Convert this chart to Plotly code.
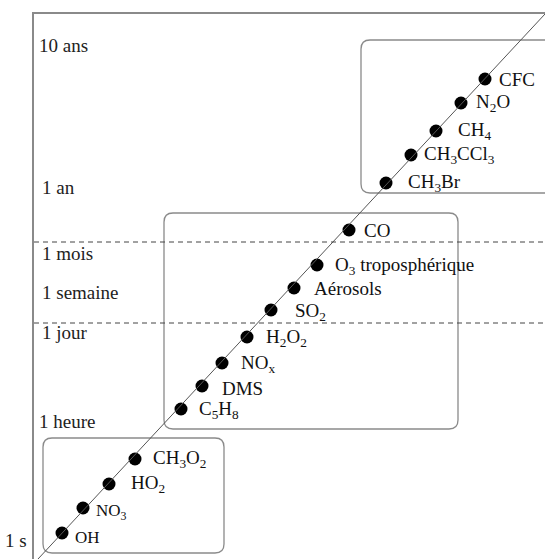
import plotly.graph_objects as go

# schematic lifetime chart: positions are unitless (1 unit ~ 1 px of the original)
species = [
    "OH", "NO<sub>3</sub>", "HO<sub>2</sub>", "CH<sub>3</sub>O<sub>2</sub>",
    "C<sub>5</sub>H<sub>8</sub>", "DMS", "NO<sub>x</sub>", "H<sub>2</sub>O<sub>2</sub>",
    "SO<sub>2</sub>", "Aérosols", "O<sub>3</sub> troposphérique", "CO",
    "CH<sub>3</sub>Br", "CH<sub>3</sub>CCl<sub>3</sub>", "CH<sub>4</sub>", "N<sub>2</sub>O", "CFC",
]
spatial = [28, 49, 75, 101, 147, 168, 188, 213, 237, 260, 283, 315, 352, 377, 402, 427, 451]
lifetime = [26, 51, 75, 100, 150, 173, 196, 222, 249, 271, 294, 329, 376, 404, 428, 456, 480]

tick_labels = ["1 s", "1 heure", "1 jour", "1 semaine", "1 mois", "1 an", "10 ans"]
tick_pos = [19, 138, 227, 267, 306, 372, 514]

# label placement (px offsets from dot centre)
label_dx = [12, 12, 21, 17, 17, 19, 18, 18, 23, 19, 17, 14, 21, 12, 21, 14, 13]
label_dy = [-4, -4, 0, 0, -1, -2, -1, -1, -2, 0, -1, 0, 0, 0, 0, 0, 0]
label_size = [17, 17] + [19] * 15

FONT = "Liberation Serif"
GREY = "#8a8a8a"


def rounded_box(x0, y0, x1, y1, r=9):
    return (
        f"M {x0 + r},{y0} L {x1 - r},{y0} Q {x1},{y0} {x1},{y0 + r} "
        f"L {x1},{y1 - r} Q {x1},{y1} {x1 - r},{y1} "
        f"L {x0 + r},{y1} Q {x0},{y1} {x0},{y1 - r} "
        f"L {x0},{y0 + r} Q {x0},{y0} {x0 + r},{y0} Z"
    )


fig = go.Figure()

fig.add_trace(go.Scatter(
    x=spatial, y=lifetime, mode="markers",
    marker={"size": 13, "color": "black"},
    hoverinfo="skip", showlegend=False,
))

shapes = [
    # diagonal guide
    {"type": "line", "x0": 4, "y0": 0, "x1": 511, "y1": 545,
     "line": {"color": "#555", "width": 1}},
    # month / day boundaries
    {"type": "line", "xref": "paper", "x0": 0, "x1": 1, "y0": 317, "y1": 317,
     "line": {"color": "#444", "width": 1, "dash": "5px,4px"}},
    {"type": "line", "xref": "paper", "x0": 0, "x1": 1, "y0": 236, "y1": 236,
     "line": {"color": "#444", "width": 1, "dash": "5px,4px"}},
]
for box in [(9, 6, 190, 121), (130, 130, 424, 346), (327, 366, 530, 519)]:
    shapes.append({"type": "path", "path": rounded_box(*box),
                   "line": {"color": GREY, "width": 1.3}, "layer": "below"})

annotations = []
for name, x, y, dx, dy, sz in zip(species, spatial, lifetime, label_dx, label_dy, label_size):
    annotations.append({
        "x": x, "y": y, "text": name, "showarrow": False,
        "xanchor": "left", "yanchor": "middle", "xshift": dx - 1, "yshift": dy,
        "font": {"family": FONT, "size": sz, "color": "#111"},
    })
for lab, y in zip(tick_labels, tick_pos):
    if lab == "1 s":
        x, anchor, shift = 0, "right", -5
    elif lab in ("10 ans", "1 heure"):
        x, anchor, shift = 0, "left", 3
    else:
        x, anchor, shift = 0, "left", 6
    annotations.append({
        "x": x, "y": y, "xref": "paper", "text": lab, "showarrow": False,
        "xanchor": anchor, "yanchor": "middle", "xshift": shift,
        "font": {"family": FONT, "size": 19, "color": "#222"},
    })

fig.update_layout(
    width=545, height=559,
    margin={"l": 34, "r": 0, "t": 14, "b": 0},
    paper_bgcolor="white", plot_bgcolor="white",
    xaxis={"range": [0, 511], "side": "top", "showline": True, "linecolor": GREY,
           "linewidth": 1.5, "showgrid": False, "zeroline": False,
           "showticklabels": False, "ticks": "", "fixedrange": True},
    yaxis={"range": [0, 545], "showline": True, "linecolor": GREY,
           "linewidth": 1.5, "showgrid": False, "zeroline": False,
           "showticklabels": False, "ticks": "", "fixedrange": True},
    shapes=shapes, annotations=annotations,
)

fig.write_html(
    "out.html",
    config={"displayModeBar": False},
    post_script="document.body.style.margin='0';document.body.style.overflow='hidden';",
)
